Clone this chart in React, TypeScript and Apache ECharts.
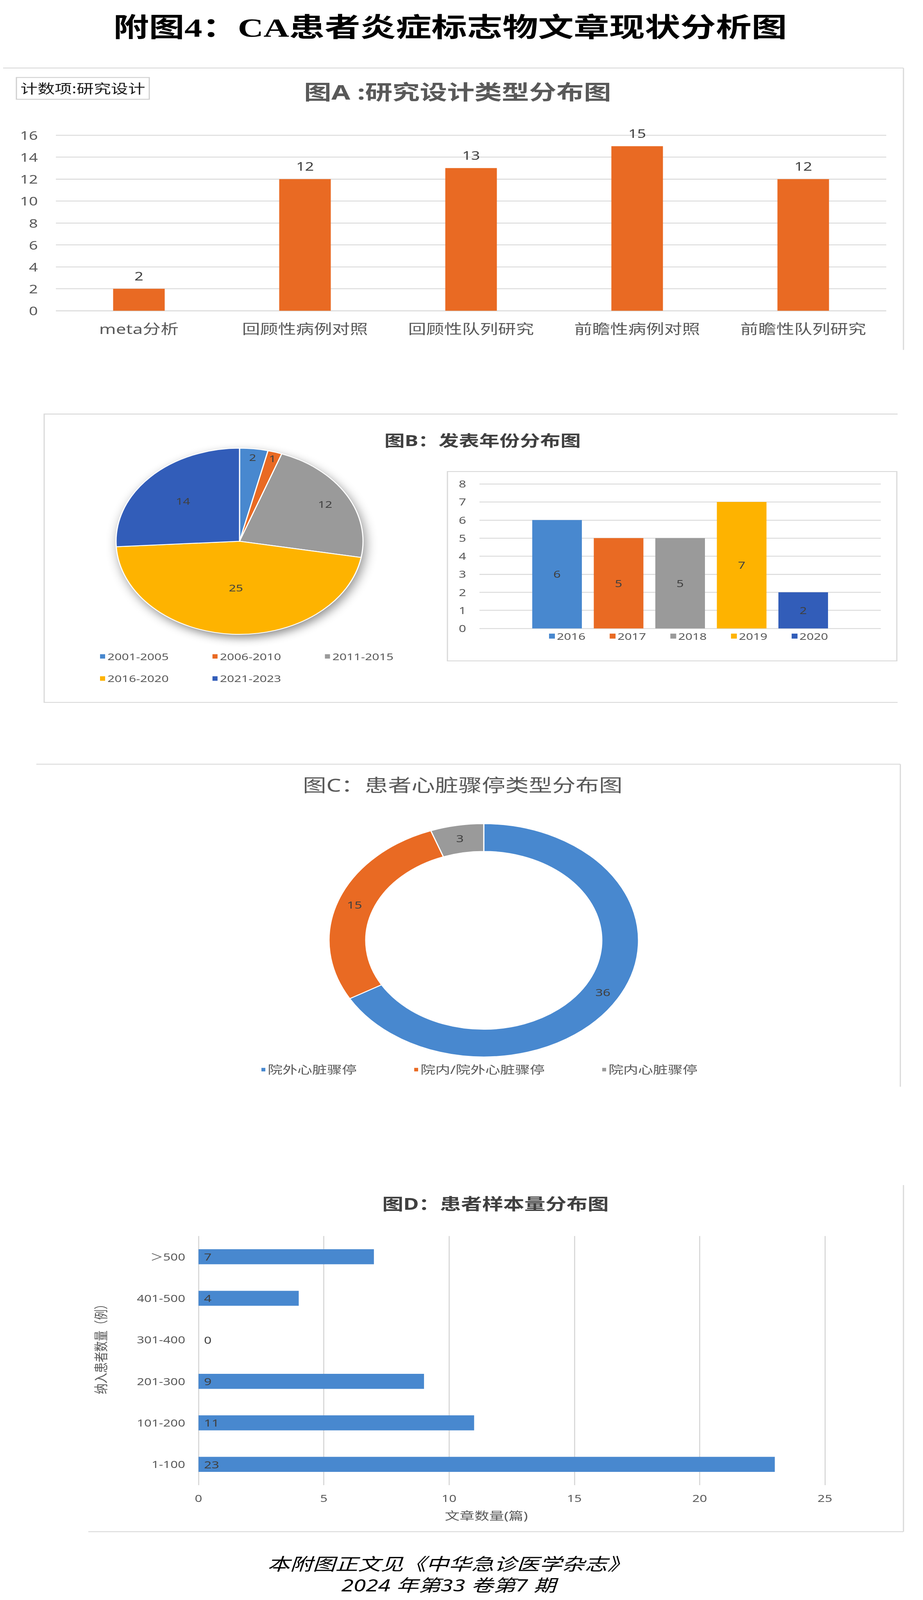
import * as echarts from "echarts";
import { useEffect, useRef } from "react";

// 图A 研究设计
const designTypes = ["meta分析", "回顾性病例对照", "回顾性队列研究", "前瞻性病例对照", "前瞻性队列研究"];
const designCounts = [2, 12, 13, 15, 12];

// 图B 发表年份
const periodNames = ["2001-2005", "2006-2010", "2011-2015", "2016-2020", "2021-2023"];
const periodCounts = [2, 1, 12, 25, 14];
const yearNames = ["2016", "2017", "2018", "2019", "2020"];
const yearCounts = [6, 5, 5, 7, 2];

// 图C 心脏骤停类型
const arrestTypes = ["院外心脏骤停", "院内/院外心脏骤停", "院内心脏骤停"];
const arrestCounts = [36, 15, 3];

// 图D 样本量
const sampleRanges = ["1-100", "101-200", "201-300", "301-400", "401-500", "＞500"];
const sampleCounts = [23, 11, 9, 0, 4, 7];

const W = 2362;
const H = 5433;

const BLUE = "#4888cf";
const ORANGE = "#e96a23";
const GRAY = "#9a9a9a";
const YELLOW = "#feb300";
const NAVY = "#325db9";
const palette = [BLUE, ORANGE, GRAY, YELLOW, NAVY];

const SANS = "'Noto Sans', 'Noto Sans CJK SC', sans-serif";
const GRID_LINE = "#d9d9d9";
const AXIS_TEXT = "#595959";
const LABEL_TEXT = "#404040";

// pie B geometry
const PIE_CX = 613;
const PIE_CY = 1838;
const PIE_R = 316;
const pieReach = [0.91, 0.93, 0.8, 0.5, 0.63];

function text(x: number, y: number, t: string, size: number, extra: any = {}) {
  return {
    type: "text",
    x,
    y,
    silent: true,
    style: {
      text: t,
      fontSize: size,
      fontFamily: SANS,
      fill: "#000",
      align: "center",
      verticalAlign: "middle",
      ...extra,
    },
  };
}

function line(x1: number, y1: number, x2: number, y2: number) {
  return {
    type: "line",
    silent: true,
    shape: { x1, y1, x2, y2 },
    style: { stroke: GRID_LINE, lineWidth: 3 },
  };
}

function App() {
  const chartRef = useRef<HTMLDivElement>(null);
  // if the viewport is shorter than the drawing, squeeze it vertically so nothing is cut off
  const vh = typeof window !== "undefined" ? window.innerHeight : H;
  const sy = vh && vh < H ? vh / H : 1;

  useEffect(() => {
    const chart = echarts.init(chartRef.current, null, { renderer: "svg" });

    const legendBase = {
      orient: "horizontal",
      icon: "rect",
      padding: 0,
      selectedMode: false,
      itemWidth: 15,
      itemHeight: 17,
    };

    const option = {
      animation: false,
      backgroundColor: "#fff",
      graphic: {
        elements: [
          text(1152, 94, "附图4：CA患者炎症标志物文章现状分析图", 91, {
            fontWeight: "bold",
            fontFamily: "'Liberation Serif', 'Noto Sans CJK SC', serif",
          }),
          // frame A
          line(8, 231, 2312, 231),
          line(2312, 231, 2312, 1188),
          {
            type: "rect",
            silent: true,
            shape: { x: 42, y: 263, width: 340, height: 74 },
            style: { fill: "#fff", stroke: "#cfcfcf", lineWidth: 3 },
          },
          text(212, 300, "计数项:研究设计", 44, { fill: "#1a1a1a" }),
          text(1171, 311, "图A :研究设计类型分布图", 70, { fontWeight: "bold", fill: AXIS_TEXT }),
          // frame B
          {
            type: "polyline",
            silent: true,
            shape: {
              points: [
                [2297, 1406],
                [113, 1406],
                [113, 2385],
                [2297, 2385],
              ],
            },
            style: { stroke: GRID_LINE, lineWidth: 3, fill: null },
          },
          text(1235, 1494, "图B：发表年份分布图", 52, { fontWeight: "bold", fill: LABEL_TEXT }),
          {
            type: "circle",
            silent: true,
            z: 0,
            shape: { cx: PIE_CX, cy: PIE_CY, r: PIE_R },
            style: {
              fill: "#fff",
              shadowBlur: 30,
              shadowColor: "rgba(0,0,0,0.45)",
              shadowOffsetX: 6,
              shadowOffsetY: 12,
            },
          },
          {
            type: "rect",
            silent: true,
            shape: { x: 1145, y: 1601, width: 1150, height: 643 },
            style: { fill: null, stroke: GRID_LINE, lineWidth: 3 },
          },
          // frame C
          line(93, 2595, 2304, 2595),
          line(2304, 2595, 2304, 3690),
          text(1184, 2666, "图C：患者心脏骤停类型分布图", 60, { fill: AXIS_TEXT }),
          // frame D
          line(2312, 4024, 2312, 5201),
          line(226, 5201, 2312, 5201),
          text(1268, 4087, "图D：患者样本量分布图", 54, { fontWeight: "bold", fill: LABEL_TEXT }),
          // footer
          text(1148, 5310, "本附图正文见《中华急诊医学杂志》", 58, { fontStyle: "italic" }),
          text(1148, 5382, "2024 年第33 卷第7 期", 57, { fontStyle: "italic" }),
        ],
      },
      grid: [
        { left: 143, top: 459, width: 2125, height: 596 },
        { left: 1227, top: 1643, width: 1027, height: 491 },
        { left: 508, top: 4197, width: 1603, height: 846 },
      ],
      xAxis: [
        {
          gridIndex: 0,
          type: "category",
          data: designTypes,
          axisLine: { show: false },
          axisTick: { show: false },
          axisLabel: { fontSize: 46, color: AXIS_TEXT, margin: 38, fontFamily: SANS },
        },
        {
          gridIndex: 1,
          type: "category",
          data: ["发表年份"],
          axisLine: { show: false },
          axisTick: { show: false },
          axisLabel: { show: false },
        },
        {
          gridIndex: 2,
          type: "value",
          min: 0,
          max: 25,
          interval: 5,
          axisLine: { show: false },
          axisTick: { show: false },
          axisLabel: { fontSize: 33, color: AXIS_TEXT, margin: 28, fontFamily: SANS },
          splitLine: { show: true, lineStyle: { color: GRID_LINE, width: 3 } },
          name: "文章数量(篇)",
          nameLocation: "middle",
          nameGap: 84,
          nameTextStyle: { fontSize: 38, color: AXIS_TEXT, fontFamily: SANS, padding: [0, 130, 0, 0] },
        },
      ],
      yAxis: [
        {
          gridIndex: 0,
          type: "value",
          min: 0,
          max: 16,
          interval: 2,
          axisLine: { show: false },
          axisTick: { show: false },
          axisLabel: { fontSize: 40, color: AXIS_TEXT, margin: 46, fontFamily: SANS },
          splitLine: { lineStyle: { color: GRID_LINE, width: 3 } },
        },
        {
          gridIndex: 1,
          type: "value",
          min: 0,
          max: 8,
          interval: 1,
          axisLine: { show: false },
          axisTick: { show: false },
          axisLabel: { fontSize: 33, color: AXIS_TEXT, margin: 34, fontFamily: SANS },
          splitLine: { lineStyle: { color: GRID_LINE, width: 3 } },
        },
        {
          gridIndex: 2,
          type: "category",
          data: sampleRanges,
          axisLine: { show: false },
          axisTick: { show: false },
          axisLabel: { fontSize: 33, color: AXIS_TEXT, margin: 34, fontFamily: SANS },
          name: "纳入患者数量（例）",
          nameLocation: "middle",
          nameRotate: 90,
          nameGap: 232,
          nameTextStyle: { fontSize: 36, color: AXIS_TEXT, fontFamily: SANS, padding: [0, 0, 0, 96] },
        },
      ],
      legend: [
        {
          ...legendBase,
          left: 254,
          top: 2211,
          itemGap: 110,
          data: periodNames.slice(0, 3),
          textStyle: { fontSize: 32, color: AXIS_TEXT, fontFamily: SANS, lineHeight: 36 },
        },
        {
          ...legendBase,
          left: 254,
          top: 2286,
          itemGap: 110,
          data: periodNames.slice(3),
          textStyle: { fontSize: 32, color: AXIS_TEXT, fontFamily: SANS, lineHeight: 36 },
        },
        {
          ...legendBase,
          left: 1405,
          top: 2142,
          itemGap: 62,
          data: yearNames,
          textStyle: { fontSize: 32, color: AXIS_TEXT, fontFamily: SANS, lineHeight: 36 },
        },
        {
          ...legendBase,
          left: 667,
          top: 3611,
          itemWidth: 12,
          itemHeight: 14,
          itemGap: 145,
          data: arrestTypes,
          textStyle: { fontSize: 38, color: AXIS_TEXT, fontFamily: SANS, lineHeight: 42 },
        },
      ],
      series: [
        {
          type: "bar",
          xAxisIndex: 0,
          yAxisIndex: 0,
          data: designCounts,
          barWidth: 132,
          itemStyle: { color: ORANGE },
          label: {
            show: true,
            position: "top",
            distance: 24,
            fontSize: 40,
            color: LABEL_TEXT,
            fontFamily: SANS,
          },
        },
        {
          type: "pie",
          z: 3,
          center: [PIE_CX, PIE_CY],
          radius: PIE_R,
          startAngle: 90,
          clockwise: true,
          data: periodNames.map((name, i) => ({
            name,
            value: periodCounts[i],
            itemStyle: { color: palette[i] },
          })),
          itemStyle: { borderColor: "#fff", borderWidth: 3 },
          label: {
            show: true,
            position: "inside",
            fontSize: 32,
            color: LABEL_TEXT,
            fontFamily: SANS,
            formatter: "{c}",
          },
          labelLine: { show: false },
          labelLayout: (p: any) => {
            const r = p.labelRect;
            const lx = r.x + r.width / 2;
            const ly = r.y + r.height / 2;
            const dx = lx - PIE_CX;
            const dy = ly - PIE_CY;
            const d = Math.hypot(dx, dy) || 1;
            const t = pieReach[p.dataIndex] * PIE_R;
            return {
              x: PIE_CX + (dx / d) * t,
              y: PIE_CY + (dy / d) * t,
              align: "center",
              verticalAlign: "middle",
            };
          },
          emphasis: { disabled: true },
        },
        ...yearNames.map((name, i) => ({
          type: "bar",
          name,
          xAxisIndex: 1,
          yAxisIndex: 1,
          data: [yearCounts[i]],
          barWidth: 127,
          barGap: "24%",
          itemStyle: { color: palette[i] },
          label: {
            show: true,
            position: "inside",
            fontSize: 33,
            color: LABEL_TEXT,
            fontFamily: SANS,
          },
        })),
        {
          type: "pie",
          center: [1238, 3193],
          radius: [302, 396],
          startAngle: 90,
          clockwise: true,
          data: arrestTypes.map((name, i) => ({
            name,
            value: arrestCounts[i],
            itemStyle: { color: palette[i] },
          })),
          itemStyle: { borderColor: "#fff", borderWidth: 3 },
          label: {
            show: true,
            position: "inside",
            fontSize: 34,
            color: LABEL_TEXT,
            fontFamily: SANS,
            formatter: "{c}",
          },
          labelLine: { show: false },
          emphasis: { disabled: true },
        },
        {
          type: "bar",
          xAxisIndex: 2,
          yAxisIndex: 2,
          data: sampleCounts,
          barWidth: 51,
          itemStyle: { color: BLUE },
          label: {
            show: true,
            position: "insideLeft",
            distance: 14,
            fontSize: 34,
            color: LABEL_TEXT,
            fontFamily: SANS,
          },
        },
      ],
    };

    chart.setOption(option as any);

    return () => {
      chart.dispose();
    };
  }, []);

  // negative margins cancel the body's default 8px margin
  return (
    <div style={{ width: W, height: H * sy, margin: -8, overflow: "hidden", background: "#fff" }}>
      <div
        ref={chartRef}
        style={{ width: W, height: H, transform: `scale(1, ${sy})`, transformOrigin: "0 0" }}
      ></div>
    </div>
  );
}

export default App;
